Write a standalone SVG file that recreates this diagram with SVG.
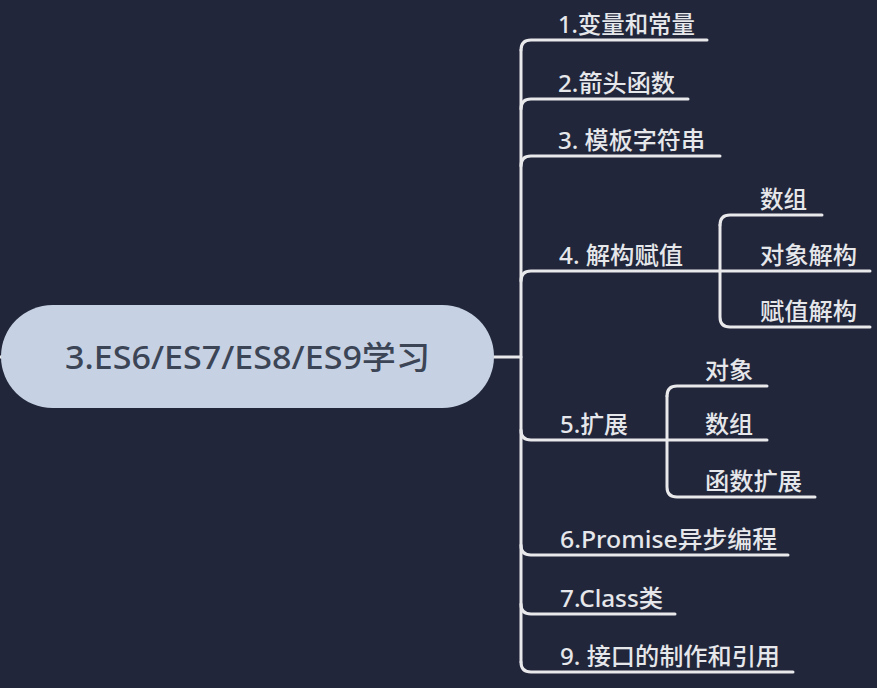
<svg xmlns="http://www.w3.org/2000/svg" width="877" height="688" viewBox="0 0 877 688">
<style>
.bg{fill:#21263a}
.ln{fill:none;stroke:#e9e9ec;stroke-width:3;stroke-linecap:round}
.t{font-family:"Noto Sans","Noto Sans CJK SC",sans-serif;font-size:24px;font-weight:500;fill:#e6e7ea}
.root{fill:#c6d2e4}
.rt{font-family:"Noto Sans","Noto Sans CJK SC",sans-serif;font-size:32px;font-weight:500;fill:#3c4556}
</style>
<rect class="bg" x="0" y="0" width="877" height="688"/>
<g id="connectors">
<path class="ln" d="M0,357 H3"/>
<path class="ln" d="M494,357 H521"/>
<path class="ln" d="M521,50 V662"/>
<path class="ln" d="M521,50 Q521,40 531,40 H707"/>
<path class="ln" d="M521,109 Q521,99 531,99 H688"/>
<path class="ln" d="M521,166 Q521,156 531,156 H720"/>
<path class="ln" d="M521,281 Q521,271 531,271 H870"/>
<path class="ln" d="M720,225 Q720,215 730,215 H822"/>
<path class="ln" d="M720,225 V317 Q720,327 730,327 H870"/>
<path class="ln" d="M521,430 Q521,440 531,440 H767"/>
<path class="ln" d="M667,396 Q667,386 677,386 H767"/>
<path class="ln" d="M667,396 V487 Q667,497 677,497 H815"/>
<path class="ln" d="M521,545 Q521,555 531,555 H788"/>
<path class="ln" d="M521,604 Q521,614 531,614 H675"/>
<path class="ln" d="M521,662 Q521,672 531,672 H793"/>
</g>
<g id="root">
<rect class="root" x="1" y="305" width="493" height="103" rx="51.5"/>
<text class="rt" x="65" y="369" textLength="365" lengthAdjust="spacingAndGlyphs">3.ES6/ES7/ES8/ES9学习</text>
</g>
<g id="n1"><text class="t" x="558" y="33" textLength="137" lengthAdjust="spacingAndGlyphs">1.变量和常量</text></g>
<g id="n2"><text class="t" x="558" y="92" textLength="117" lengthAdjust="spacingAndGlyphs">2.箭头函数</text></g>
<g id="n3"><text class="t" x="558" y="149" textLength="147" lengthAdjust="spacingAndGlyphs">3. 模板字符串</text></g>
<g id="n4"><text class="t" x="559" y="264" textLength="124" lengthAdjust="spacingAndGlyphs">4. 解构赋值</text></g>
<g id="n4a"><text class="t" x="760" y="208" textLength="47" lengthAdjust="spacingAndGlyphs">数组</text></g>
<g id="n4b"><text class="t" x="760" y="264" textLength="97" lengthAdjust="spacingAndGlyphs">对象解构</text></g>
<g id="n4c"><text class="t" x="760" y="320" textLength="97" lengthAdjust="spacingAndGlyphs">赋值解构</text></g>
<g id="n5"><text class="t" x="560" y="433" textLength="68" lengthAdjust="spacingAndGlyphs">5.扩展</text></g>
<g id="n5a"><text class="t" x="705" y="379" textLength="48" lengthAdjust="spacingAndGlyphs">对象</text></g>
<g id="n5b"><text class="t" x="705" y="433" textLength="48" lengthAdjust="spacingAndGlyphs">数组</text></g>
<g id="n5c"><text class="t" x="705" y="490" textLength="97" lengthAdjust="spacingAndGlyphs">函数扩展</text></g>
<g id="n6"><text class="t" x="560" y="548" textLength="217" lengthAdjust="spacingAndGlyphs">6.Promise异步编程</text></g>
<g id="n7"><text class="t" x="560" y="607" textLength="103" lengthAdjust="spacingAndGlyphs">7.Class类</text></g>
<g id="n9"><text class="t" x="560" y="665" textLength="220" lengthAdjust="spacingAndGlyphs">9. 接口的制作和引用</text></g>
</svg>
